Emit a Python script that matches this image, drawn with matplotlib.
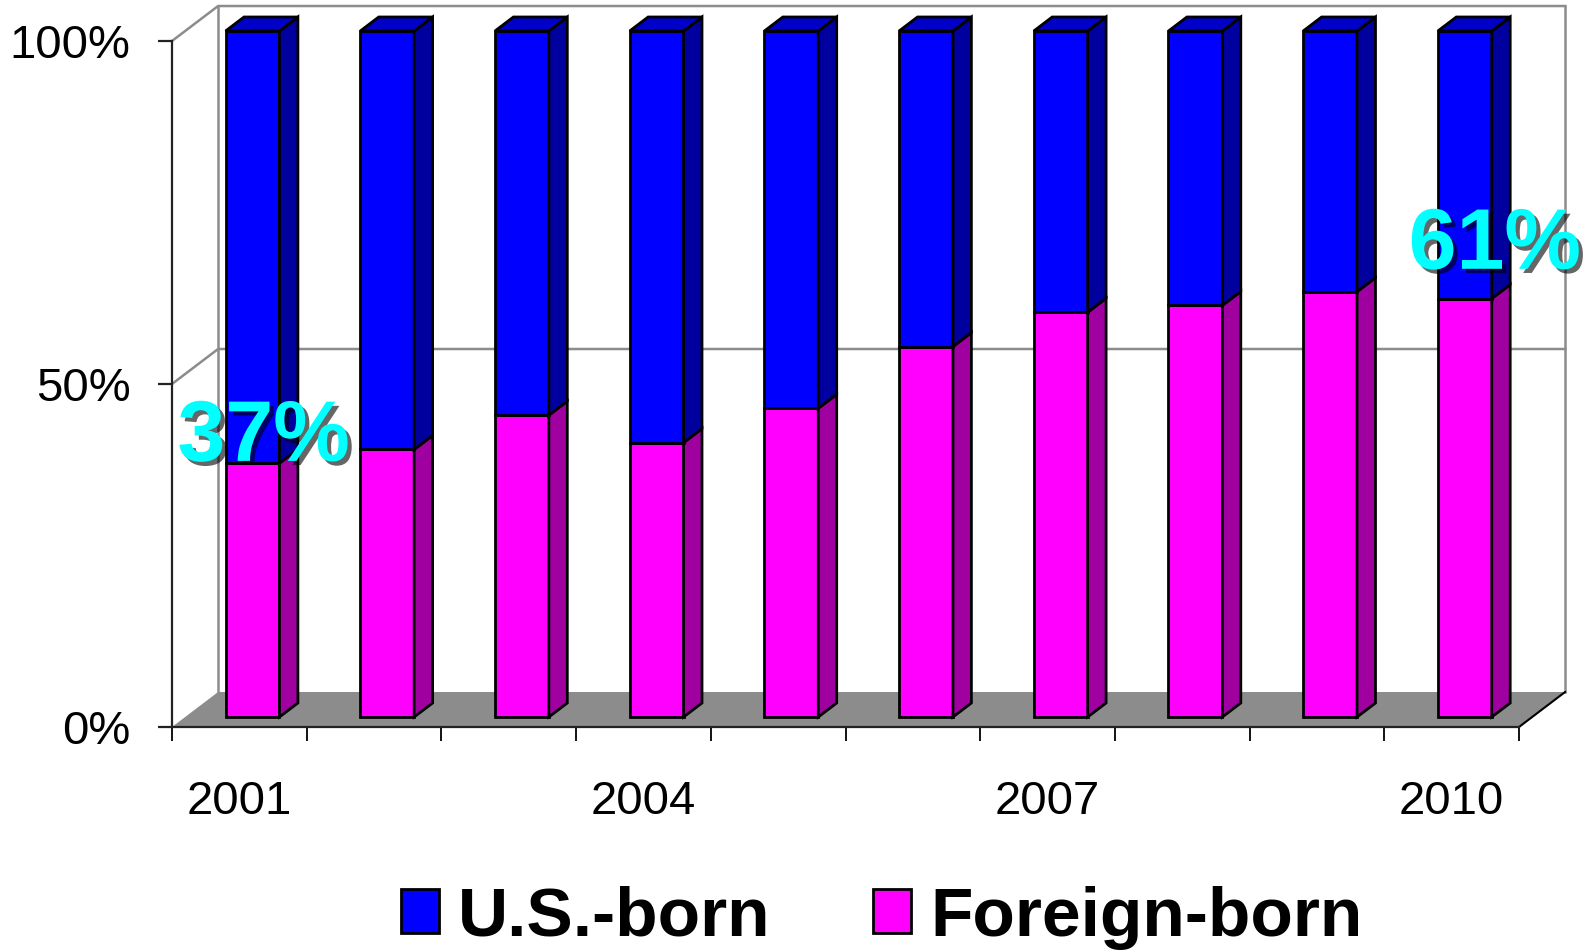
import matplotlib.pyplot as plt
import matplotlib.patheffects as pe
from matplotlib.patches import Polygon, Patch

plt.rcParams['font.family'] = ['Liberation Sans', 'DejaVu Sans']

years = ['2001', '2002', '2003', '2004', '2005', '2006', '2007', '2008', '2009', '2010']
foreign_born = [0.37, 0.39, 0.44, 0.40, 0.45, 0.54, 0.59, 0.60, 0.62, 0.61]
us_born = [1 - v for v in foreign_born]
yticks = [0, 0.5, 1.0]
ytick_labels = ['0%', '50%', '100%']
shown_years = ['2001', '2004', '2007', '2010']

blue, blue_side, blue_top = '#0000FF', '#00009E', '#0000C8'
pink, pink_side = '#FF00FF', '#A000A0'
wall_gray = '#8C8C8C'

# fake 3d: depth offset of the back wall, in data units
DX, DY = 0.342, 0.051
F0, F1 = 0.286, 0.686  # front / back of the bars as fraction of the depth
W = 0.4

fig = plt.figure(figsize=(15.9, 9.52), dpi=100)
ax = fig.add_axes([0, 0, 1, 1])
n = len(years)
ax.set_xlim(-172 / 134.7, (1590 - 172) / 134.7)
ax.set_ylim(-(952 - 727) / 686, 727 / 686)

# floor and back wall
ax.add_patch(Polygon([(0, 0), (n, 0), (n + DX, DY), (DX, DY)], closed=True,
                     facecolor=wall_gray, edgecolor='none', zorder=1))
ax.plot([n, n + DX], [0, DY], color='black', lw=1.5, zorder=1.2)
ax.plot([DX, DX], [DY, 1 + DY], color=wall_gray, lw=1.8, zorder=1.1)
ax.plot([n + DX, n + DX], [DY, 1 + DY], color=wall_gray, lw=1.8, zorder=1.1)
for v in yticks[1:]:
    ax.plot([0, DX, n + DX], [v, v + DY, v + DY], color=wall_gray, lw=1.8, zorder=1.1)

# bars
for i in range(n):
    c = i + 0.5
    xl, xr = c - W / 2, c + W / 2
    segs = [(0, foreign_born[i], pink, pink_side), (foreign_born[i], 1.0, blue, blue_side)]
    for y0, y1, front, side in segs:
        ax.bar(c + F0 * DX, y1 - y0, bottom=y0 + F0 * DY, width=W, color=front,
               edgecolor='black', linewidth=2, zorder=3)
        ax.add_patch(Polygon([(xr + F0 * DX, y0 + F0 * DY), (xr + F1 * DX, y0 + F1 * DY),
                              (xr + F1 * DX, y1 + F1 * DY), (xr + F0 * DX, y1 + F0 * DY)],
                             closed=True, facecolor=side, edgecolor='black',
                             linewidth=2, zorder=3))
    ax.add_patch(Polygon([(xl + F0 * DX, 1 + F0 * DY), (xr + F0 * DX, 1 + F0 * DY),
                          (xr + F1 * DX, 1 + F1 * DY), (xl + F1 * DX, 1 + F1 * DY)],
                         closed=True, facecolor=blue_top, edgecolor='black',
                         linewidth=2, zorder=3))

# axes
for s in ['top', 'right']:
    ax.spines[s].set_visible(False)
ax.spines['left'].set_position(('data', 0))
ax.spines['bottom'].set_position(('data', 0))
ax.spines['left'].set_bounds(0, 1)
ax.spines['bottom'].set_bounds(0, n)
for s in ['left', 'bottom']:
    ax.spines[s].set_linewidth(1.6)
    ax.spines[s].set_color('#222222')
ax.set_yticks(yticks)
ax.set_yticklabels(ytick_labels, fontsize=34)
ax.tick_params(axis='y', direction='out', length=10, width=1.6, pad=20, color='#222222')
ax.set_xticks(range(n + 1))
ax.set_xticklabels([])
ax.tick_params(axis='x', which='major', direction='out', length=10, width=1.3)
ax.set_xticks([years.index(y) + 0.5 for y in shown_years], minor=True)
ax.set_xticklabels(shown_years, minor=True, fontsize=34)
ax.tick_params(axis='x', which='minor', length=0, pad=38)

# callouts
shadow = [pe.withSimplePatchShadow(offset=(3, -3), shadow_rgbFace='black', alpha=0.6)]
ax.text(0.5 + 0.18, foreign_born[0] + 0.05, f'{foreign_born[0]:.0%}', fontsize=62,
        fontweight='bold', color='#00FFFF', ha='center', va='center', zorder=6,
        path_effects=shadow)
ax.text(9.5 + 0.32, foreign_born[-1] + 0.09, f'{foreign_born[-1]:.0%}', fontsize=62,
        fontweight='bold', color='#00FFFF', ha='center', va='center', zorder=6,
        path_effects=shadow)

handles = [Patch(facecolor=blue, edgecolor='black', linewidth=2),
           Patch(facecolor=pink, edgecolor='black', linewidth=2)]
fig.legend(handles, ['U.S.-born', 'Foreign-born'], loc='center', ncol=2,
           bbox_to_anchor=(0.5545, 0.036), frameon=False,
           prop={'size': 50, 'weight': 'bold'}, handlelength=0.55, handleheight=0.6,
           handletextpad=0.27, columnspacing=1.48)

fig.savefig('out.png', dpi=100)
